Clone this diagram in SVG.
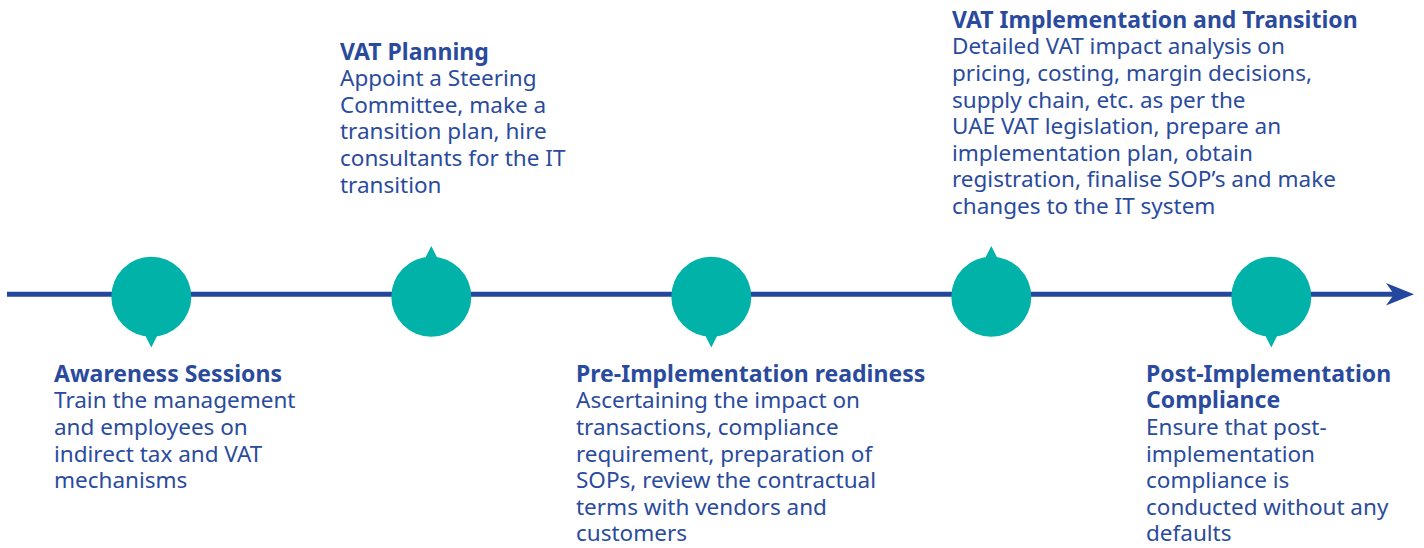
<svg xmlns="http://www.w3.org/2000/svg" width="1424" height="548" viewBox="0 0 1424 548">
<style>
.t{font-family:"Noto Sans","Open Sans",sans-serif;font-size:22.5px;fill:#2a4b9d}
.h{font-weight:bold;font-size:23px}
.n{fill:#00b2a7}
</style>
<rect width="1424" height="548" fill="#fff"/>
<g id="connectors">
<line x1="7" y1="294.2" x2="1396" y2="294.2" stroke="#23479d" stroke-width="5"/>
<polygon points="1414,294.2 1386,283 1394,294.2 1386,305.4" fill="#23479d"/>
</g>
<g id="n1">
<circle class="n" cx="151.3" cy="296.7" r="40"/>
<polygon class="n" points="144,333 158.6,333 151.3,347.5"/>
<text class="t" x="54"><tspan class="h" x="54" y="381.7">Awareness Sessions</tspan><tspan x="54" y="408.3">Train the management</tspan><tspan x="54" y="434.9">and employees on</tspan><tspan x="54" y="461.5">indirect tax and VAT</tspan><tspan x="54" y="488.1">mechanisms</tspan></text>
</g>
<g id="n2">
<circle class="n" cx="431.3" cy="296.7" r="40"/>
<polygon class="n" points="424,260.4 438.6,260.4 431.3,246"/>
<text class="t"><tspan class="h" x="340" y="59.5">VAT Planning</tspan><tspan x="340" y="86.1">Appoint a Steering</tspan><tspan x="340" y="112.7">Committee, make a</tspan><tspan x="340" y="139.3">transition plan, hire</tspan><tspan x="340" y="165.9">consultants for the IT</tspan><tspan x="340" y="192.5">transition</tspan></text>
</g>
<g id="n3">
<circle class="n" cx="711.3" cy="296.7" r="40"/>
<polygon class="n" points="704,333 718.6,333 711.3,347.5"/>
<text class="t"><tspan class="h" x="576" y="381.7">Pre-Implementation readiness</tspan><tspan x="576" y="408.3">Ascertaining the impact on</tspan><tspan x="576" y="434.9">transactions, compliance</tspan><tspan x="576" y="461.5">requirement, preparation of</tspan><tspan x="576" y="488.1">SOPs, review the contractual</tspan><tspan x="576" y="514.7">terms with vendors and</tspan><tspan x="576" y="541.3">customers</tspan></text>
</g>
<g id="n4">
<circle class="n" cx="991.3" cy="296.7" r="40"/>
<polygon class="n" points="984,260.4 998.6,260.4 991.3,246"/>
<text class="t"><tspan class="h" x="952" y="27.7">VAT Implementation and Transition</tspan><tspan x="952" y="54.3">Detailed VAT impact analysis on</tspan><tspan x="952" y="80.9">pricing, costing, margin decisions,</tspan><tspan x="952" y="107.5">supply chain, etc. as per the</tspan><tspan x="952" y="134.1">UAE VAT legislation, prepare an</tspan><tspan x="952" y="160.7">implementation plan, obtain</tspan><tspan x="952" y="187.3">registration, finalise SOP’s and make</tspan><tspan x="952" y="213.9">changes to the IT system</tspan></text>
</g>
<g id="n5">
<circle class="n" cx="1271.3" cy="296.7" r="40"/>
<polygon class="n" points="1264,333 1278.6,333 1271.3,347.5"/>
<text class="t"><tspan class="h" x="1146" y="381.7">Post-Implementation</tspan><tspan class="h" x="1146" y="408.3">Compliance</tspan><tspan x="1146" y="434.9">Ensure that post-</tspan><tspan x="1146" y="461.5">implementation</tspan><tspan x="1146" y="488.1">compliance is</tspan><tspan x="1146" y="514.7">conducted without any</tspan><tspan x="1146" y="541.3">defaults</tspan></text>
</g>
</svg>
